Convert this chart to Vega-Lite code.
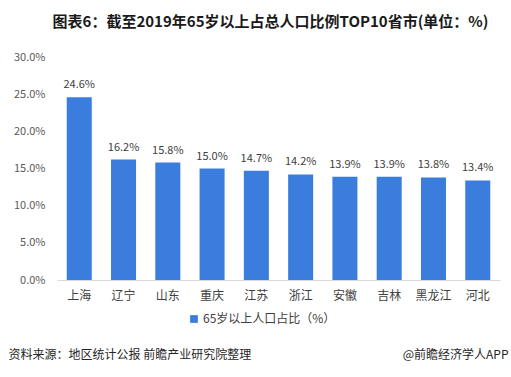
{
  "$schema": "https://vega.github.io/schema/vega-lite/v6.json",
  "autosize": "none",
  "width": 443,
  "height": 223,
  "padding": {"left": 57, "top": 57, "right": 11, "bottom": 97},
  "background": "white",
  "config": {"view": {"stroke": null}, "font": "Noto Sans CJK SC"},
  "title": {
    "text": "图表6：截至2019年65岁以上占总人口比例TOP10省市(单位：%)",
    "anchor": "middle",
    "frame": "group",
    "fontSize": 15,
    "fontWeight": "bold",
    "color": "#1a1a1a",
    "offset": 21,
    "dx": -8
  },
  "data": {
    "values": [
      {"province": "上海", "value": 0.246, "series": "65岁以上人口占比（%）"},
      {"province": "辽宁", "value": 0.162, "series": "65岁以上人口占比（%）"},
      {"province": "山东", "value": 0.158, "series": "65岁以上人口占比（%）"},
      {"province": "重庆", "value": 0.150, "series": "65岁以上人口占比（%）"},
      {"province": "江苏", "value": 0.147, "series": "65岁以上人口占比（%）"},
      {"province": "浙江", "value": 0.142, "series": "65岁以上人口占比（%）"},
      {"province": "安徽", "value": 0.139, "series": "65岁以上人口占比（%）"},
      {"province": "吉林", "value": 0.139, "series": "65岁以上人口占比（%）"},
      {"province": "黑龙江", "value": 0.138, "series": "65岁以上人口占比（%）"},
      {"province": "河北", "value": 0.134, "series": "65岁以上人口占比（%）"}
    ]
  },
  "encoding": {
    "x": {
      "field": "province",
      "type": "nominal",
      "sort": null,
      "scale": {"paddingInner": 0.435, "paddingOuter": 0.22},
      "axis": {
        "title": "资料来源：地区统计公报 前瞻产业研究院整理",
        "titleX": -49,
        "titleY": 74,
        "titleAlign": "left",
        "titleBaseline": "middle",
        "titleFontSize": 12,
        "titleFontWeight": "normal",
        "titleColor": "#262626",
        "labelAngle": 0,
        "labelFontSize": 12,
        "labelColor": "#404040",
        "labelPadding": 10,
        "ticks": false,
        "domainColor": "#d9d9d9",
        "grid": false
      }
    },
    "y": {
      "field": "value",
      "type": "quantitative",
      "scale": {"domain": [0, 0.3]},
      "axis": {
        "title": "@前瞻经济学人APP",
        "titleAngle": 0,
        "titleX": 451,
        "titleY": 297,
        "titleAlign": "right",
        "titleBaseline": "middle",
        "titleFontSize": 12,
        "titleFontWeight": "normal",
        "titleColor": "#262626",
        "values": [0, 0.05, 0.1, 0.15, 0.2, 0.25, 0.3],
        "format": ".1%",
        "labelFontSize": 11,
        "labelColor": "#595959",
        "labelPadding": 12,
        "ticks": false,
        "domain": false,
        "grid": false
      }
    }
  },
  "layer": [
    {
      "mark": {"type": "bar", "color": "#3B7DDD"},
      "encoding": {
        "color": {
          "field": "series",
          "type": "nominal",
          "scale": {"range": ["#3B7DDD"]},
          "legend": {
            "title": null,
            "orient": "none",
            "legendX": 131,
            "legendY": 256,
            "symbolType": "square",
            "symbolSize": 60,
            "labelFontSize": 12,
            "labelColor": "#404040",
            "labelOffset": 3
          }
        }
      }
    },
    {
      "mark": {"type": "text", "baseline": "bottom", "dy": -7, "fontSize": 11, "color": "#404040"},
      "encoding": {
        "text": {"field": "value", "type": "quantitative", "format": ".1%"}
      }
    }
  ]
}
